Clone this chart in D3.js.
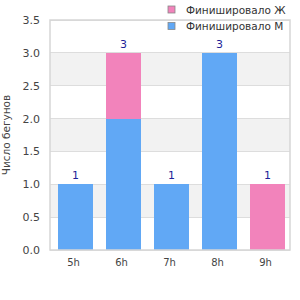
<!DOCTYPE html>
<html><head><meta charset="utf-8">
<script src="https://cdn.jsdelivr.net/npm/d3@7"></script>
<style>body{margin:0;background:#fff;} svg{display:block;font-family:"DejaVu Sans",sans-serif;}</style>
</head><body>
<svg id="c" width="300" height="300"></svg>
<script>
const categories = ["5h","6h","7h","8h","9h"];
const seriesNames = ["Финишировало М","Финишировало Ж"];
const valuesM = [1,2,1,3,0];
const valuesF = [0,1,0,0,1];
const yTicks = [0,0.5,1.0,1.5,2.0,2.5,3.0,3.5];
const yLabel = "Число бегунов";
const colors = {"Финишировало М":"#61a8f5","Финишировало Ж":"#f283bb"};

const svg = d3.select("#c");
const L=50,R=290,T=20,B=250;
const y = d3.scaleLinear().domain([0,3.5]).range([B,T]);
const x = d3.scaleBand().domain(categories).range([L+1.5,R+1.5]).paddingInner(0.27).paddingOuter(0.135);

// alternating bands
for(let i=0;i<yTicks.length-1;i++){
  if(i%2===1){
    svg.append("rect").attr("x",L).attr("width",R-L)
      .attr("y",y(yTicks[i+1])).attr("height",y(yTicks[i])-y(yTicks[i+1])).attr("fill","#f2f2f2");
  }
}
// gridlines
svg.append("g").selectAll("line").data(yTicks).join("line")
  .attr("x1",L).attr("x2",R).attr("y1",d=>y(d)).attr("y2",d=>y(d))
  .attr("stroke","#dddddd").attr("stroke-width",1).attr("shape-rendering","crispEdges");

// stacked bars
const data = categories.map((c,i)=>({cat:c,"Финишировало М":valuesM[i],"Финишировало Ж":valuesF[i]}));
const stack = d3.stack().keys(seriesNames)(data);
svg.append("g").selectAll("g").data(stack).join("g").attr("fill",d=>colors[d.key])
  .selectAll("rect").data(d=>d).join("rect")
  .attr("x",d=>x(d.data.cat)).attr("width",x.bandwidth())
  .attr("y",d=>y(d[1])).attr("height",d=>y(d[0])-y(d[1]))
  .attr("shape-rendering","crispEdges");

// totals
svg.append("g").selectAll("text").data(data).join("text")
  .attr("x",d=>x(d.cat)+x.bandwidth()/2)
  .attr("y",d=>y(d["Финишировало М"]+d["Финишировало Ж"])-5)
  .attr("text-anchor","middle").attr("font-size",11).attr("fill","#1f1f99")
  .text(d=>d["Финишировало М"]+d["Финишировало Ж"]);

// frame
svg.append("rect").attr("x",L).attr("y",T).attr("width",R-L).attr("height",B-T)
  .attr("fill","none").attr("stroke","#d6d6d6").attr("stroke-width",1.5);

// y axis
const yAxis = d3.axisLeft(y).tickValues(yTicks).tickFormat(d3.format(".1f")).tickSize(0).tickPadding(10);
const ga = svg.append("g").attr("transform",`translate(${L},0)`).call(yAxis);
ga.select(".domain").remove();
ga.selectAll("text").attr("font-size",11).attr("fill","#444").attr("font-family","DejaVu Sans, sans-serif");

// x axis
const xAxis = d3.axisBottom(x).tickSize(0).tickPadding(9);
const gx = svg.append("g").attr("transform",`translate(-2,${B})`).call(xAxis);
gx.select(".domain").remove();
gx.selectAll("text").attr("font-size",10).attr("fill","#444").attr("font-family","DejaVu Sans, sans-serif");

// y label
svg.append("text").attr("transform",`translate(10,${(T+B)/2}) rotate(-90)`)
  .attr("text-anchor","middle").attr("font-size",10.5).attr("fill","#444").text(yLabel);

// legend
const legendItems = ["Финишировало Ж","Финишировало М"];
const lg = svg.append("g").selectAll("g").data(legendItems).join("g")
  .attr("transform",(d,i)=>`translate(168,${6+i*16.5})`);
lg.append("rect").attr("width",7).attr("height",7).attr("fill",d=>colors[d]).attr("stroke","#888").attr("stroke-width",0.8);
lg.append("text").attr("x",18).attr("y",7.5).attr("font-size",10.5).attr("fill","#333").text(d=>d);
</script>
</body></html>
